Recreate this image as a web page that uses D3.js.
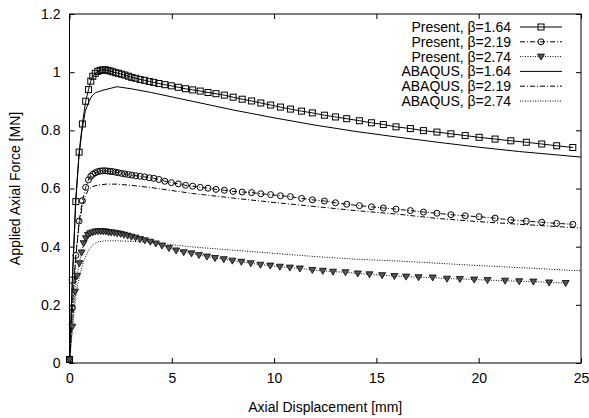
<!DOCTYPE html>
<html>
<head>
<meta charset="utf-8">
<script src="https://cdn.jsdelivr.net/npm/d3@7/dist/d3.min.js"></script>
<style>
  html, body { margin: 0; padding: 0; background: #fff; }
  svg text { font-family: "Liberation Sans", Arial, Helvetica, sans-serif; fill: #000; }
</style>
</head>
<body>
<svg id="chart" width="589" height="418"></svg>
<script>
// Axial displacement steps [mm] of the present solution (beta = 1.64 and 2.19)
const dispA = [0, 0.14, 0.31, 0.47, 0.63, 0.79, 0.93, 1.04, 1.14, 1.26, 1.38, 1.50, 1.62, 1.75, 1.87, 1.99,
  2.12, 2.26, 2.40, 2.55, 2.71, 2.88, 3.05, 3.24, 3.45, 3.67, 3.90, 4.12, 4.37, 4.66, 4.98, 5.32, 5.67,
  6.02, 6.39, 6.77, 7.16, 7.57, 8.00, 8.44, 8.90, 9.35, 9.83, 10.31, 10.80, 11.34, 11.87, 12.46, 13.00,
  13.55, 14.17, 14.76, 15.34, 15.96, 16.66, 17.30, 17.96, 18.64, 19.34, 20.02, 20.80, 21.57, 22.33,
  23.08, 23.81, 24.60];
// Applied axial force [MN], present solution, beta = 1.64
const present164 = [0.012, 0.285, 0.555, 0.725, 0.822, 0.900, 0.940, 0.969, 0.986, 0.996, 1.003, 1.006,
  1.008, 1.008, 1.006, 1.004, 1.001, 0.998, 0.996, 0.993, 0.990, 0.986, 0.982, 0.979, 0.975, 0.972,
  0.968, 0.965, 0.961, 0.957, 0.953, 0.948, 0.943, 0.939, 0.935, 0.930, 0.926, 0.921, 0.914, 0.907,
  0.901, 0.894, 0.887, 0.880, 0.873, 0.866, 0.860, 0.852, 0.846, 0.840, 0.833, 0.826, 0.820, 0.812,
  0.806, 0.799, 0.794, 0.788, 0.782, 0.776, 0.770, 0.764, 0.759, 0.753, 0.747, 0.741];
// Applied axial force [MN], present solution, beta = 2.19
const present219 = [0.012, 0.190, 0.370, 0.488, 0.558, 0.604, 0.630, 0.642, 0.649, 0.654, 0.658, 0.660,
  0.661, 0.661, 0.660, 0.659, 0.658, 0.656, 0.654, 0.652, 0.650, 0.648, 0.646, 0.644, 0.642, 0.640,
  0.637, 0.635, 0.631, 0.625, 0.620, 0.616, 0.611, 0.608, 0.604, 0.601, 0.597, 0.594, 0.590, 0.588,
  0.586, 0.582, 0.579, 0.575, 0.572, 0.566, 0.561, 0.557, 0.551, 0.546, 0.541, 0.537, 0.533, 0.529,
  0.524, 0.519, 0.515, 0.510, 0.506, 0.503, 0.498, 0.492, 0.488, 0.484, 0.480, 0.477];

// Displacement steps [mm] of the present solution, beta = 2.74
const dispB = [0, 0.14, 0.27, 0.37, 0.48, 0.59, 0.69, 0.80, 0.90, 1.01, 1.13, 1.26, 1.39, 1.52, 1.65, 1.78,
  1.91, 2.04, 2.19, 2.33, 2.50, 2.66, 2.84, 3.03, 3.23, 3.45, 3.68, 3.95, 4.22, 4.52, 4.86, 5.21, 5.58,
  5.96, 6.33, 6.72, 7.11, 7.54, 7.96, 8.40, 8.86, 9.33, 9.81, 10.28, 10.77, 11.26, 11.87, 12.38, 12.88,
  13.49, 14.09, 14.66, 15.28, 15.88, 16.45, 17.06, 17.75, 18.45, 19.08, 19.78, 20.43, 21.29, 21.98,
  22.67, 23.44, 24.25];
const present274 = [0.012, 0.125, 0.245, 0.300, 0.343, 0.380, 0.412, 0.429, 0.440, 0.446, 0.449, 0.452,
  0.453, 0.453, 0.453, 0.452, 0.450, 0.449, 0.448, 0.446, 0.444, 0.441, 0.438, 0.434, 0.431, 0.426,
  0.422, 0.417, 0.411, 0.404, 0.395, 0.387, 0.381, 0.377, 0.371, 0.366, 0.361, 0.357, 0.352, 0.348,
  0.343, 0.338, 0.335, 0.331, 0.328, 0.325, 0.320, 0.317, 0.314, 0.312, 0.308, 0.305, 0.302, 0.299,
  0.297, 0.295, 0.294, 0.290, 0.289, 0.287, 0.285, 0.283, 0.281, 0.280, 0.277, 0.275];

// ABAQUS reference solutions
const abaqusDisp164 = [0, 0.15, 0.30, 0.45, 0.60, 0.77, 0.94, 1.10, 1.26, 1.59, 2.32, 3.0, 4.0, 6.0, 8.0,
  10.0, 12.0, 14.0, 16.0, 18.0, 20.0, 22.0, 25.0];
const abaqus164 = [0, 0.300, 0.560, 0.700, 0.795, 0.865, 0.898, 0.918, 0.929, 0.937, 0.950, 0.943, 0.930,
  0.900, 0.870, 0.843, 0.818, 0.796, 0.777, 0.759, 0.742, 0.727, 0.708];
const abaqusDisp219 = [0, 0.10, 0.20, 0.30, 0.45, 0.60, 0.75, 0.90, 1.10, 1.40, 1.80, 2.30, 3.0, 4.0, 6.0,
  8.0, 10.0, 12.0, 14.0, 16.0, 18.0, 20.0, 22.0, 25.0];
const abaqus219 = [0, 0.130, 0.260, 0.360, 0.460, 0.530, 0.570, 0.593, 0.606, 0.612, 0.615, 0.615, 0.611,
  0.603, 0.583, 0.567, 0.552, 0.538, 0.524, 0.512, 0.497, 0.486, 0.477, 0.464];
const abaqusDisp274 = [0, 0.10, 0.20, 0.30, 0.40, 0.53, 0.70, 0.94, 1.18, 1.42, 1.75, 2.40, 3.37, 4.35, 6.0,
  7.83, 10.0, 12.0, 14.0, 16.0, 18.0, 20.0, 22.0, 25.0];
const abaqus274 = [0, 0.080, 0.160, 0.225, 0.270, 0.308, 0.352, 0.389, 0.409, 0.417, 0.420, 0.420, 0.417,
  0.412, 0.399, 0.389, 0.377, 0.366, 0.357, 0.351, 0.343, 0.335, 0.328, 0.317];

const xTicks = [0, 5, 10, 15, 20, 25];
const yTicks = [0, 0.2, 0.4, 0.6, 0.8, 1, 1.2];
const xTitle = "Axial Displacement [mm]";
const yTitle = "Applied Axial Force [MN]";

const zip = (xs, ys) => ys.slice(0, xs.length).map((v, i) => [xs[i], v]);

const series = [
  { label: "Present, \u03B2=1.64", pts: zip(dispA, present164), dash: null, marker: "square" },
  { label: "Present, \u03B2=2.19", pts: zip(dispA, present219), dash: "5,2,1,2", marker: "circle" },
  { label: "Present, \u03B2=2.74", pts: zip(dispB, present274), dash: "1,1.5", marker: "triangle" },
  { label: "ABAQUS, \u03B2=1.64", pts: zip(abaqusDisp164, abaqus164), dash: null, marker: null },
  { label: "ABAQUS, \u03B2=2.19", pts: zip(abaqusDisp219, abaqus219), dash: "5,2,1,2", marker: null },
  { label: "ABAQUS, \u03B2=2.74", pts: zip(abaqusDisp274, abaqus274), dash: "1,1.5", marker: null }
];

const svg = d3.select("#chart");
const plotL = 69.5, plotR = 581, plotT = 14, plotB = 363;
const x = d3.scaleLinear().domain([0, 25]).range([plotL, plotR]);
const y = d3.scaleLinear().domain([0, 1.2]).range([plotB, plotT]);
const fontSize = 14;

// axes with inward ticks, mirrored on top and right
const tick = 5;
const gx = svg.append("g").attr("transform", `translate(0,${plotB})`)
  .call(d3.axisBottom(x).tickValues(xTicks).tickFormat(d3.format("d")).tickSize(-tick).tickPadding(10));
const gy = svg.append("g").attr("transform", `translate(${plotL},0)`)
  .call(d3.axisLeft(y).tickValues(yTicks).tickFormat(d => d === 0 ? "0" : (d === 1 ? "1" : d3.format(".1f")(d))).tickSize(-tick).tickPadding(9));
const gx2 = svg.append("g").attr("transform", `translate(0,${plotT})`)
  .call(d3.axisTop(x).tickValues(xTicks).tickFormat("").tickSize(-tick));
const gy2 = svg.append("g").attr("transform", `translate(${plotR},0)`)
  .call(d3.axisRight(y).tickValues(yTicks).tickFormat("").tickSize(-tick));
[gx, gy, gx2, gy2].forEach(g => {
  g.select(".domain").remove();
  g.selectAll("line").attr("stroke", "#000").attr("stroke-width", 1);
  g.selectAll("text").style("font-size", fontSize + "px")
    .style("font-family", '"Liberation Sans", Arial, sans-serif').attr("fill", "#000");
});

svg.append("rect").attr("x", plotL).attr("y", plotT)
  .attr("width", plotR - plotL).attr("height", plotB - plotT)
  .attr("fill", "none").attr("stroke", "#000").attr("stroke-width", 1);

// axis titles
svg.append("text").attr("x", (plotL + plotR) / 2).attr("y", 412)
  .attr("text-anchor", "middle").style("font-size", fontSize + "px").text(xTitle);
svg.append("text").attr("transform", `translate(20,${(plotT + plotB) / 2}) rotate(-90)`)
  .attr("text-anchor", "middle").style("font-size", fontSize + "px").text(yTitle);

// marker shapes
function drawMarker(g, type, cx, cy) {
  if (type === "square") {
    g.append("rect").attr("x", cx - 3).attr("y", cy - 3).attr("width", 6).attr("height", 6)
      .attr("fill", "none").attr("stroke", "#000").attr("stroke-width", 1);
  } else if (type === "circle") {
    g.append("circle").attr("cx", cx).attr("cy", cy).attr("r", 3)
      .attr("fill", "none").attr("stroke", "#000").attr("stroke-width", 1);
  } else if (type === "triangle") {
    g.append("path").attr("d", `M${cx - 3.5},${cy - 2.5}L${cx + 3.5},${cy - 2.5}L${cx},${cy + 3.5}Z`)
      .attr("fill", "#555").attr("stroke", "#000").attr("stroke-width", 0.8);
  }
}

const line = d3.line().x(d => x(d[0])).y(d => y(d[1]));
const plot = svg.append("g");

// ABAQUS curves first, then present solutions with markers on top
[3, 4, 5, 0, 1, 2].forEach(i => {
  const s = series[i];
  plot.append("path").datum(s.pts).attr("d", line)
    .attr("fill", "none").attr("stroke", "#000").attr("stroke-width", 1)
    .attr("stroke-dasharray", s.dash);
  if (s.marker) {
    const mg = plot.append("g");
    s.pts.forEach(p => drawMarker(mg, s.marker, x(p[0]), y(p[1])));
  }
});

// legend
const legend = svg.append("g");
series.forEach((s, i) => {
  const ly = 27 + i * 14.8;
  legend.append("text").attr("x", 511).attr("y", ly).attr("dy", "0.35em")
    .attr("text-anchor", "end").style("font-size", fontSize + "px").text(s.label);
  legend.append("line").attr("x1", 520).attr("x2", 562).attr("y1", ly).attr("y2", ly)
    .attr("stroke", "#000").attr("stroke-width", 1).attr("stroke-dasharray", s.dash);
  if (s.marker) drawMarker(legend, s.marker, 541, ly);
});
</script>
</body>
</html>
